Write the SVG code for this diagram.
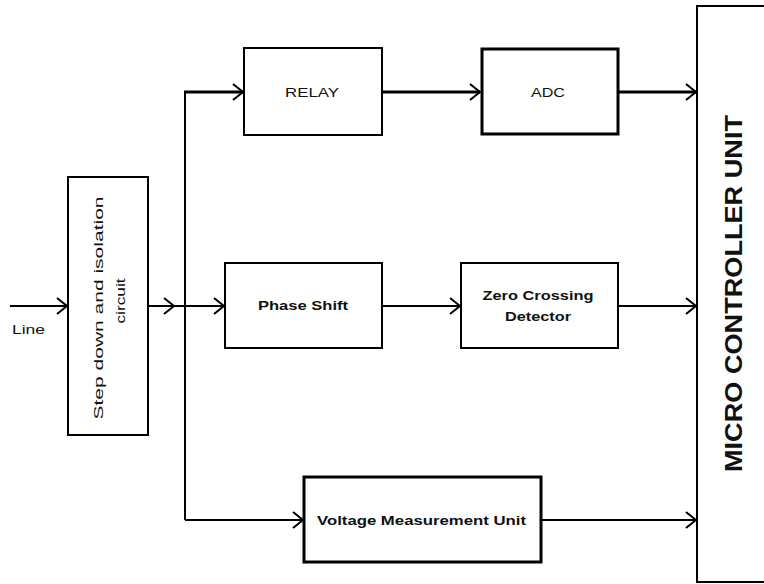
<svg xmlns="http://www.w3.org/2000/svg" width="764" height="584" viewBox="0 0 764 584">
<style>
.box{fill:#fff;stroke:#000;stroke-width:2}
.thick{stroke-width:3}
.w{fill:none;stroke:#000;stroke-width:2}
.wt{fill:none;stroke:#000;stroke-width:3}
.t{font-family:"Liberation Sans",Arial,sans-serif;fill:#111;text-anchor:middle}
.b{font-weight:bold}
</style>
<defs>
<marker id="ah" markerUnits="userSpaceOnUse" viewBox="-12 -10 14 20" refX="0" refY="0" markerWidth="14" markerHeight="20" orient="auto">
<path d="M -10 -8 L 0 0 L -10 8" fill="none" stroke="#000" stroke-width="2"/>
</marker>
</defs>
<rect width="764" height="584" fill="#fff"/>
<g id="connectors">
<line class="w" x1="10" y1="306" x2="67" y2="306" marker-end="url(#ah)"/>
<line class="w" x1="148" y1="306" x2="174" y2="306" marker-end="url(#ah)"/>
<line class="w" x1="174" y1="306" x2="224" y2="306" marker-end="url(#ah)"/>
<polyline class="w" points="185,520 185,92"/>
<polyline class="wt" points="184,92 243,92" marker-end="url(#ah)"/>
<line class="w" x1="185" y1="520" x2="303" y2="520" marker-end="url(#ah)"/>
<line class="wt" x1="382" y1="92" x2="480" y2="92" marker-end="url(#ah)"/>
<line class="wt" x1="618" y1="92" x2="696" y2="92" marker-end="url(#ah)"/>
<line class="w" x1="382" y1="306" x2="460" y2="306" marker-end="url(#ah)"/>
<line class="w" x1="618" y1="306" x2="696" y2="306" marker-end="url(#ah)"/>
<line class="w" x1="541" y1="520" x2="696" y2="520" marker-end="url(#ah)"/>
</g>
<text class="t" x="28.5" y="334" font-size="13" textLength="33" lengthAdjust="spacingAndGlyphs">Line</text>
<g id="stepdown">
<rect class="box" x="68" y="177" width="80" height="258"/>
<text class="t" transform="translate(103,308) rotate(-90)" font-size="13" textLength="223" lengthAdjust="spacingAndGlyphs">Step down and isolation</text>
<text class="t" transform="translate(125,301) rotate(-90)" font-size="13" textLength="45" lengthAdjust="spacingAndGlyphs">circuit</text>
</g>
<g id="relay">
<rect class="box" x="244" y="48" width="138" height="87"/>
<text class="t" x="312" y="97" font-size="13" textLength="54" lengthAdjust="spacingAndGlyphs">RELAY</text>
</g>
<g id="adc">
<rect class="box thick" x="482" y="49" width="136" height="85"/>
<text class="t" x="548" y="97" font-size="13" textLength="34" lengthAdjust="spacingAndGlyphs">ADC</text>
</g>
<g id="phase">
<rect class="box" x="225" y="263" width="157" height="85"/>
<text class="t b" x="303" y="310" font-size="13" textLength="90" lengthAdjust="spacingAndGlyphs">Phase Shift</text>
</g>
<g id="zcd">
<rect class="box" x="461" y="263" width="157" height="85"/>
<text class="t b" x="538" y="300" font-size="12" textLength="111" lengthAdjust="spacingAndGlyphs">Zero Crossing</text>
<text class="t b" x="538" y="321" font-size="12" textLength="66" lengthAdjust="spacingAndGlyphs">Detector</text>
</g>
<g id="vmu">
<rect class="box thick" x="304" y="477" width="237" height="85"/>
<text class="t b" x="421.5" y="525" font-size="12" textLength="209" lengthAdjust="spacingAndGlyphs">Voltage Measurement Unit</text>
</g>
<g id="mcu">
<rect class="box" x="697" y="6" width="80" height="576"/>
<text class="t b" transform="translate(742,293.5) rotate(-90)" font-size="23" textLength="357" lengthAdjust="spacingAndGlyphs">MICRO CONTROLLER UNIT</text>
</g>
</svg>
